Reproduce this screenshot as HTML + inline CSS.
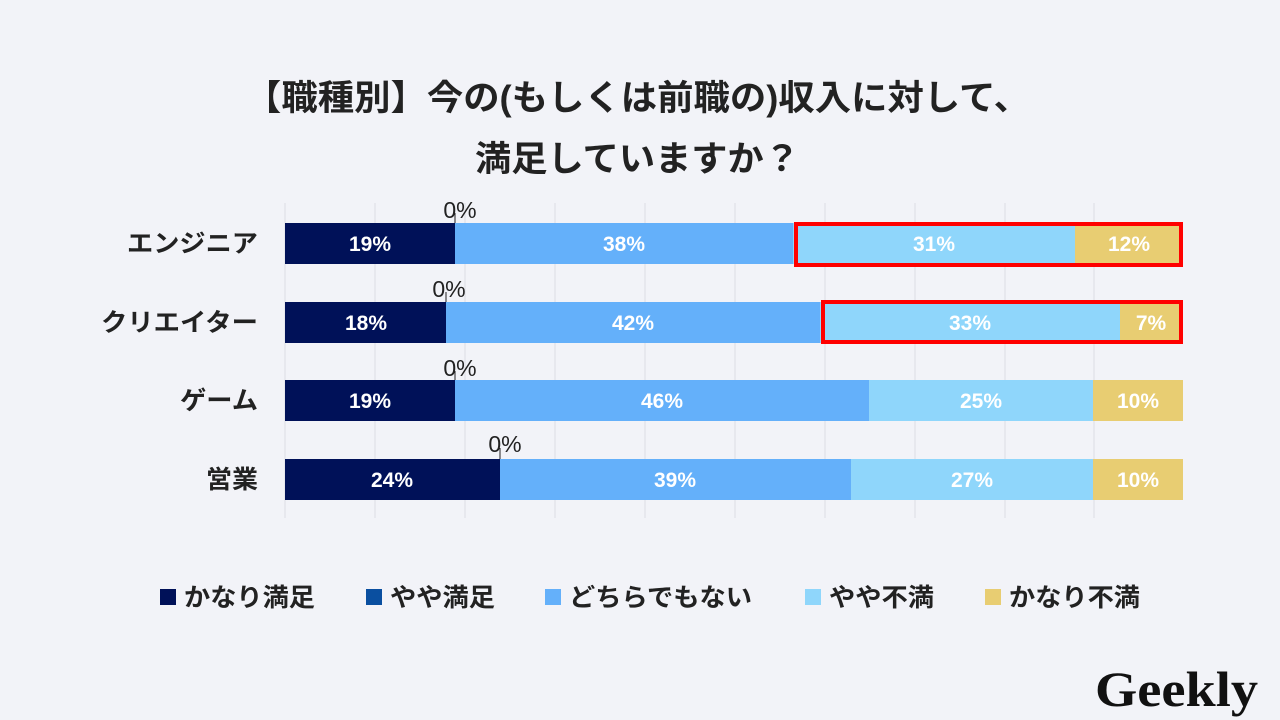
<!DOCTYPE html>
<html><head><meta charset="utf-8"><style>
body{margin:0;width:1280px;height:720px;background:#f2f3f8;overflow:hidden;font-family:"Liberation Sans","Noto Sans CJK JP",sans-serif;}
svg{position:absolute;left:0;top:0}
</style></head><body>
<svg width="1280" height="720" viewBox="0 0 1280 720">
<g font-family="Liberation Sans, Noto Sans CJK JP, sans-serif">
<text x="245" y="110" font-size="35" font-weight="bold" fill="#222" textLength="785" lengthAdjust="spacingAndGlyphs">【職種別】今の(もしくは前職の)収入に対して、</text>
<text x="475" y="171" font-size="35" font-weight="bold" fill="#222" textLength="325" lengthAdjust="spacingAndGlyphs">満足していますか？</text>
<g stroke="#dcdde3" stroke-width="1">
<line x1="285" y1="203" x2="285" y2="518"/><line x1="375" y1="203" x2="375" y2="518"/><line x1="465" y1="203" x2="465" y2="518"/><line x1="555" y1="203" x2="555" y2="518"/><line x1="645" y1="203" x2="645" y2="518"/><line x1="735" y1="203" x2="735" y2="518"/><line x1="825" y1="203" x2="825" y2="518"/><line x1="915" y1="203" x2="915" y2="518"/><line x1="1005" y1="203" x2="1005" y2="518"/><line x1="1094" y1="203" x2="1094" y2="518"/>
</g>
<g font-size="21" font-weight="bold" fill="#fff" text-anchor="middle">
<rect x="285" y="223" width="170" height="41" fill="#001158"/><rect x="455" y="223" width="338" height="41" fill="#64b0fa"/><rect x="793" y="223" width="282" height="41" fill="#8fd6fb"/><rect x="1075" y="223" width="108" height="41" fill="#e8cd72"/>
<text x="370" y="251">19%</text><text x="624" y="251">38%</text><text x="934" y="251">31%</text><text x="1129" y="251">12%</text>
<rect x="285" y="302" width="161" height="41" fill="#001158"/><rect x="446" y="302" width="374" height="41" fill="#64b0fa"/><rect x="820" y="302" width="300" height="41" fill="#8fd6fb"/><rect x="1120" y="302" width="63" height="41" fill="#e8cd72"/>
<text x="366" y="330">18%</text><text x="633" y="330">42%</text><text x="970" y="330">33%</text><text x="1151" y="330">7%</text>
<rect x="285" y="380" width="170" height="41" fill="#001158"/><rect x="455" y="380" width="414" height="41" fill="#64b0fa"/><rect x="869" y="380" width="224" height="41" fill="#8fd6fb"/><rect x="1093" y="380" width="90" height="41" fill="#e8cd72"/>
<text x="370" y="408">19%</text><text x="662" y="408">46%</text><text x="981" y="408">25%</text><text x="1138" y="408">10%</text>
<rect x="285" y="459" width="215" height="41" fill="#001158"/><rect x="500" y="459" width="351" height="41" fill="#64b0fa"/><rect x="851" y="459" width="242" height="41" fill="#8fd6fb"/><rect x="1093" y="459" width="90" height="41" fill="#e8cd72"/>
<text x="392" y="487">24%</text><text x="675" y="487">39%</text><text x="972" y="487">27%</text><text x="1138" y="487">10%</text>
</g>
<g fill="none" stroke="#ff0000" stroke-width="4">
<rect x="796" y="224" width="385" height="41"/><rect x="823" y="302" width="358" height="40"/>
</g>
<g font-size="23" fill="#222" text-anchor="middle">
<text x="460" y="218">0%</text><line x1="455" y1="213" x2="455" y2="223" stroke="#222"/>
<text x="449" y="297">0%</text><line x1="446" y1="292" x2="446" y2="302" stroke="#222"/>
<text x="460" y="376">0%</text><line x1="455" y1="371" x2="455" y2="380" stroke="#222"/>
<text x="505" y="452">0%</text><line x1="500" y1="448" x2="500" y2="459" stroke="#222"/>
</g>
<g font-size="25" font-weight="bold" fill="#222">
<text x="127" y="252" textLength="131" lengthAdjust="spacingAndGlyphs">エンジニア</text>
<text x="101" y="331" textLength="157" lengthAdjust="spacingAndGlyphs">クリエイター</text>
<text x="180" y="409" textLength="78" lengthAdjust="spacingAndGlyphs">ゲーム</text>
<text x="206" y="488" textLength="52" lengthAdjust="spacingAndGlyphs">営業</text>
</g>
<g font-size="25" font-weight="bold" fill="#222">
<rect x="160" y="589" width="16" height="16" fill="#001158"/><text x="184" y="606" textLength="131" lengthAdjust="spacingAndGlyphs">かなり満足</text>
<rect x="366" y="589" width="16" height="16" fill="#0a4fa0"/><text x="390" y="606" textLength="105" lengthAdjust="spacingAndGlyphs">やや満足</text>
<rect x="545" y="589" width="16" height="16" fill="#64b0fa"/><text x="569" y="606" textLength="183" lengthAdjust="spacingAndGlyphs">どちらでもない</text>
<rect x="805" y="589" width="16" height="16" fill="#8fd6fb"/><text x="829" y="606" textLength="105" lengthAdjust="spacingAndGlyphs">やや不満</text>
<rect x="985" y="589" width="16" height="16" fill="#e8cd72"/><text x="1009" y="606" textLength="131" lengthAdjust="spacingAndGlyphs">かなり不満</text>
</g>
<text x="1095" y="706" font-family="Liberation Serif, serif" font-size="50" font-weight="bold" fill="#111" textLength="163" lengthAdjust="spacingAndGlyphs">Geekly</text>
</g>
</svg>
</body></html>
